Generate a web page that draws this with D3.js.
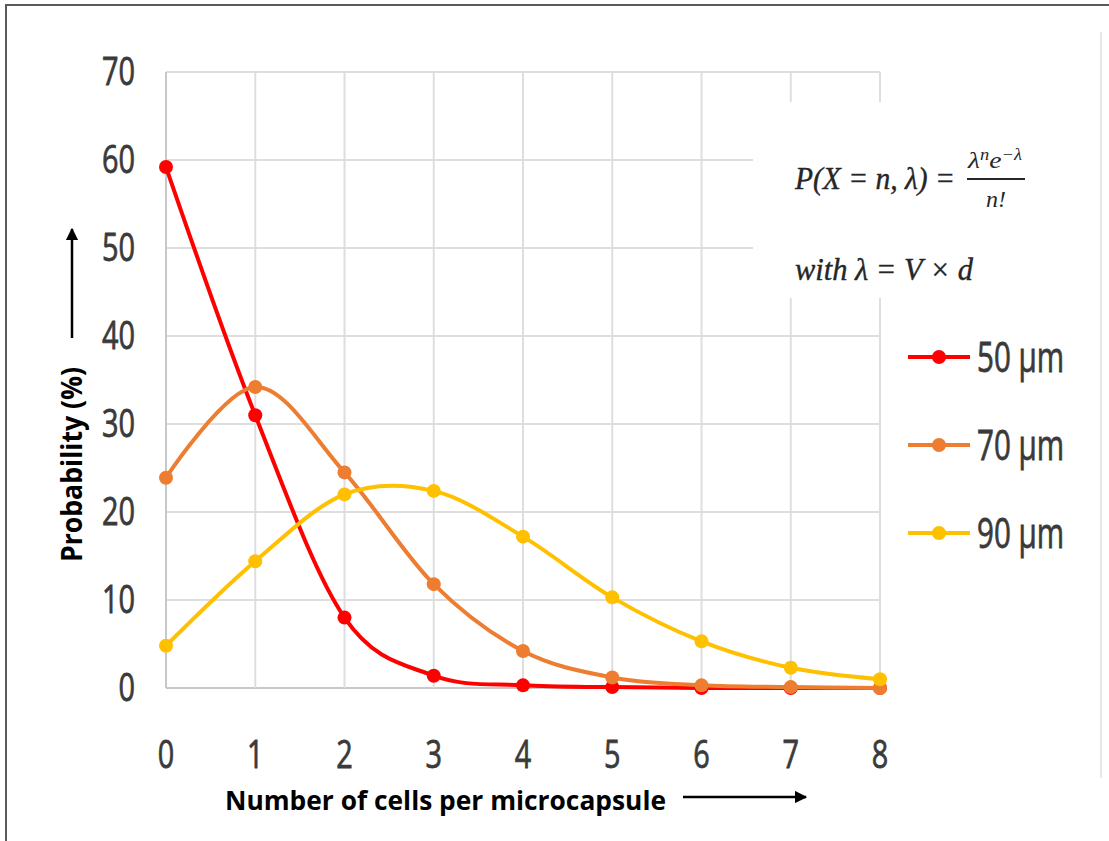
<!DOCTYPE html>
<html><head><meta charset="utf-8">
<script src="https://cdn.jsdelivr.net/npm/d3@7"></script>
<style>body{margin:0;background:#fff}svg{display:block}</style>
</head><body>
<script>
// ---- data ----
const categories = [0,1,2,3,4,5,6,7,8];
const yTicks = [0,10,20,30,40,50,60,70];
const seriesNames = ["50 µm","70 µm","90 µm"];
const s50 = [59.2, 31.0, 8.0, 1.4, 0.3, 0.1, 0.0, 0.0, 0.0];
const s70 = [23.9, 34.2, 24.5, 11.8, 4.2, 1.2, 0.3, 0.1, 0.0];
const s90 = [4.8, 14.4, 22.0, 22.4, 17.2, 10.3, 5.3, 2.3, 1.0];
const seriesColors = ["#ff0000","#ed7d31","#ffc000"];
const xTitle = "Number of cells per microcapsule";
const yTitle = "Probability (%)";

const W = 1109, H = 841;
const svg = d3.select("body").append("svg").attr("width",W).attr("height",H);

// frame
svg.append("line").attr("x1",5).attr("x2",W).attr("y1",5).attr("y2",5).attr("stroke","#5a5a5a").attr("stroke-width",2);
svg.append("line").attr("x1",6).attr("x2",6).attr("y1",5).attr("y2",H).attr("stroke","#5a5a5a").attr("stroke-width",2);
svg.append("line").attr("x1",1101).attr("x2",1101).attr("y1",32).attr("y2",778).attr("stroke","#e8e8e8").attr("stroke-width",2);

const x = d3.scaleLinear().domain([0,8]).range([166,880]);
const y = d3.scaleLinear().domain([0,70]).range([688,72]);

// grid
const grid = svg.append("g");
grid.selectAll(".hg").data(yTicks).join("line")
  .attr("x1",x(0)).attr("x2",x(8)).attr("y1",d=>y(d)).attr("y2",d=>y(d))
  .attr("stroke",d=>d===0?"#c8c8c8":"#dedede").attr("stroke-width",2);
grid.selectAll(".vg").data(categories).join("line")
  .attr("x1",d=>x(d)).attr("x2",d=>x(d)).attr("y1",y(70)).attr("y2",y(0))
  .attr("stroke",d=>d===0?"#c8c8c8":"#dedede").attr("stroke-width",2);

// formula box (white background)
svg.append("rect").attr("x",753).attr("y",102).attr("width",300).attr("height",196).attr("fill","#fff");

// tick labels
const tickFont = "'Open Sans', sans-serif";
svg.append("g").selectAll("text").data(yTicks).join("text")
  .attr("x",135).attr("y",d=>y(d)+13).attr("text-anchor","end")
  .attr("font-family",tickFont).attr("font-size",39).attr("fill","#3a3a3a")
  .attr("stroke","#3a3a3a").attr("stroke-width",0.8)
  .attr("textLength",d=>String(d).length*16.5).attr("lengthAdjust","spacingAndGlyphs")
  .text(d=>d);
svg.append("g").selectAll("text").data(categories).join("text")
  .attr("x",d=>x(d)).attr("y",768).attr("text-anchor","middle")
  .attr("font-family",tickFont).attr("font-size",39).attr("fill","#3a3a3a")
  .attr("stroke","#3a3a3a").attr("stroke-width",0.8)
  .attr("textLength",16.5).attr("lengthAdjust","spacingAndGlyphs")
  .text(d=>d);

// axis titles
svg.append("text").attr("x",225).attr("y",810)
  .attr("font-family",tickFont).attr("font-weight","bold").attr("font-size",27).attr("fill","#000")
  .attr("textLength",441).attr("lengthAdjust","spacingAndGlyphs").text(xTitle);
const defs = svg.append("defs");
defs.append("marker").attr("id","ah").attr("viewBox","0 0 10 10").attr("refX",9).attr("refY",5)
  .attr("markerWidth",5).attr("markerHeight",5).attr("markerUnits","strokeWidth").attr("orient","auto")
  .append("path").attr("d","M0,0 L10,5 L0,10 z").attr("fill","#000");
svg.append("line").attr("x1",683).attr("x2",806).attr("y1",797).attr("y2",797)
  .attr("stroke","#000").attr("stroke-width",2.5).attr("marker-end","url(#ah)");

svg.append("text").attr("transform","translate(82,562) rotate(-90)")
  .attr("font-family",tickFont).attr("font-weight","bold").attr("font-size",29).attr("fill","#000")
  .attr("textLength",195).attr("lengthAdjust","spacingAndGlyphs").text(yTitle);
svg.append("line").attr("x1",72).attr("x2",72).attr("y1",338).attr("y2",229)
  .attr("stroke","#000").attr("stroke-width",2.5).attr("marker-end","url(#ah)");

// series
const allSeries = [s50, s70, s90];
const line = d3.line().x((d,i)=>x(categories[i])).y(d=>y(d)).curve(d3.curveCatmullRom.alpha(0));
allSeries.forEach((vals,k)=>{
  const g = svg.append("g");
  g.append("path").attr("d",line(vals)).attr("fill","none")
    .attr("stroke",seriesColors[k]).attr("stroke-width",4).attr("stroke-linejoin","round");
  g.selectAll("circle").data(vals).join("circle")
    .attr("cx",(d,i)=>x(categories[i])).attr("cy",d=>y(d)).attr("r",7).attr("fill",seriesColors[k]);
});

// legend
const lg = svg.append("g");
seriesNames.forEach((name,k)=>{
  const ly = 357 + k*88;
  lg.append("line").attr("x1",908).attr("x2",970).attr("y1",ly).attr("y2",ly)
    .attr("stroke",seriesColors[k]).attr("stroke-width",4);
  lg.append("circle").attr("cx",939).attr("cy",ly).attr("r",7).attr("fill",seriesColors[k]);
  lg.append("text").attr("x",977).attr("y",ly+15)
    .attr("font-family",tickFont).attr("font-size",42).attr("fill","#3a3a3a")
    .attr("stroke","#3a3a3a").attr("stroke-width",0.8)
    .attr("textLength",87).attr("lengthAdjust","spacingAndGlyphs").text(name);
});

// formula
const ff = "'Liberation Serif', 'DejaVu Serif', serif";
const fm = svg.append("g").attr("font-family",ff).attr("font-style","italic").attr("fill","#262626");
fm.append("text").attr("x",795).attr("y",189).attr("font-size",32)
  .attr("stroke","#262626").attr("stroke-width",0.4)
  .attr("textLength",160).attr("lengthAdjust","spacingAndGlyphs").text("P(X = n, λ) =");
const num = fm.append("text").attr("x",968).attr("y",168).attr("font-size",24)
  .attr("textLength",54).attr("lengthAdjust","spacingAndGlyphs");
num.append("tspan").text("λ");
num.append("tspan").attr("font-size",16).attr("dy",-8).text("n");
num.append("tspan").attr("dy",8).text("e");
num.append("tspan").attr("font-size",16).attr("dy",-8).text("−λ");
svg.append("line").attr("x1",967).attr("x2",1025).attr("y1",179).attr("y2",179).attr("stroke","#262626").attr("stroke-width",1.8);
fm.append("text").attr("x",996).attr("y",207).attr("text-anchor","middle").attr("font-size",24).text("n!");
fm.append("text").attr("x",795).attr("y",280).attr("font-size",32)
  .attr("stroke","#262626").attr("stroke-width",0.4)
  .attr("textLength",178).attr("lengthAdjust","spacingAndGlyphs").text("with λ = V × d");
</script>
</body></html>
